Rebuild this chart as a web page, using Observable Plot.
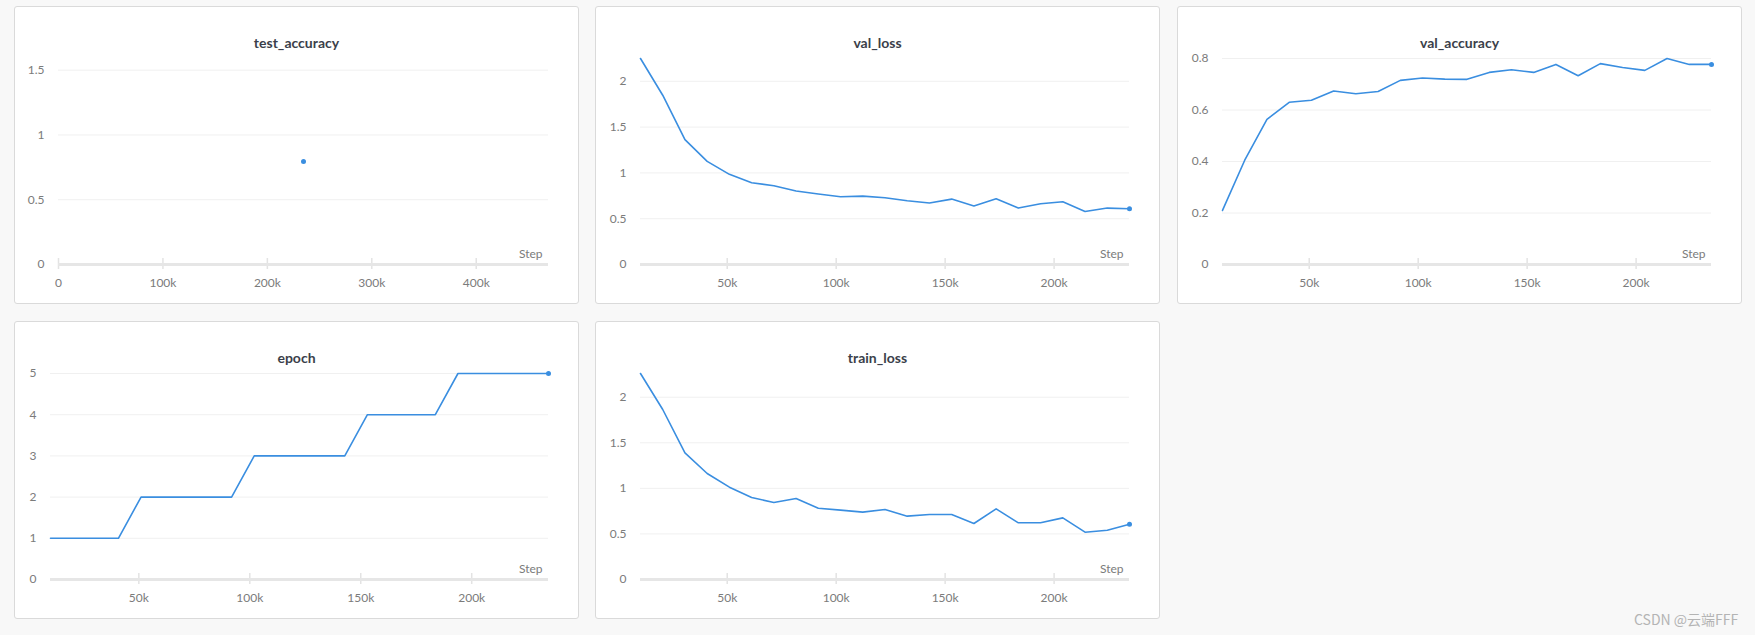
<!DOCTYPE html>
<html>
<head>
<meta charset="utf-8">
<script src="https://cdn.jsdelivr.net/npm/d3@7"></script>
<script src="https://cdn.jsdelivr.net/npm/@observablehq/plot@0.6"></script>
<style>
  html, body { margin: 0; padding: 0; }
  body { width: 1755px; height: 635px; background: #f8f8f8; position: relative; overflow: hidden;
         font-family: Lato, "Open Sans", "Noto Sans", sans-serif; }
  .card { position: absolute; width: 563px; height: 296px; border: 1px solid #dadada; border-radius: 3px; background: #fff; }
  .card svg { position: absolute; left: 0; top: 0; }
  .title { position: absolute; left: 0; right: 0; top: 27px; text-align: center; font-weight: 700; font-size: 14px;
           line-height: 18px; color: #3b3f4a; }
  .wm { position: absolute; left: 1634px; top: 609px; font-family: "Noto Sans CJK SC", sans-serif; font-size: 14px;
        color: #b4b4b4; line-height: 20px; }
</style>
</head>
<body>
<script>
// ---- data ----
const steps = [10200, 20400, 30600, 40800, 51000, 61200, 71400, 81600, 91800, 102000, 112200, 122400,
               132600, 142800, 153000, 163200, 173400, 183600, 193800, 204000, 214200, 224400, 234600];
const valLoss = [2.249, 1.848, 1.363, 1.126, 0.984, 0.893, 0.860, 0.802, 0.769, 0.740, 0.747, 0.729,
                 0.696, 0.671, 0.714, 0.638, 0.718, 0.616, 0.663, 0.685, 0.579, 0.616, 0.609];
const valAccuracy = [0.210, 0.405, 0.564, 0.630, 0.638, 0.674, 0.663, 0.672, 0.715, 0.724, 0.720, 0.719,
                     0.746, 0.756, 0.746, 0.777, 0.733, 0.780, 0.765, 0.754, 0.800, 0.777, 0.777];
const epochValues = [1, 1, 1, 1, 2, 2, 2, 2, 2, 3, 3, 3, 3, 3, 4, 4, 4, 4, 5, 5, 5, 5, 5];
const trainLoss = [2.260, 1.865, 1.389, 1.163, 1.013, 0.899, 0.845, 0.888, 0.782, 0.761, 0.739, 0.768,
                   0.695, 0.713, 0.713, 0.614, 0.775, 0.622, 0.622, 0.676, 0.519, 0.541, 0.607];
const testSteps = [234600];
const testAccuracy = [0.795];

const stepTicks = [50000, 100000, 150000, 200000];
const testStepTicks = [0, 100000, 200000, 300000, 400000];
const lossTicks = [0, 0.5, 1, 1.5, 2];
const accTicks = [0, 0.2, 0.4, 0.6, 0.8];
const epochTicks = [0, 1, 2, 3, 4, 5];
const testTicks = [0, 0.5, 1, 1.5];

const BLUE = "#3a8ee0";
const fmtStep = d => d === 0 ? "0" : (d / 1000) + "k";
const fmtVal = d3.format("~g");

function panel({left, top, title, xs, ys, xDomain, yDomain, xTicks, yTicks, marginLeft}) {
  const card = document.createElement("div");
  card.className = "card";
  card.style.left = left + "px";
  card.style.top = top + "px";
  const data = xs.map((s, i) => ({step: s, value: ys[i]}));
  const last = data[data.length - 1];
  const chart = Plot.plot({
    width: 563, height: 296,
    marginTop: 51, marginBottom: 39, marginLeft, marginRight: 30,
    style: {fontFamily: "Lato, 'Open Sans', sans-serif", fontSize: "12px", color: "#7b7b7b", background: "transparent", overflow: "visible"},
    x: {domain: xDomain, ticks: xTicks, tickFormat: fmtStep, tickSize: 0, tickPadding: 14, label: null},
    y: {domain: yDomain, ticks: yTicks, tickFormat: fmtVal, tickSize: 0, tickPadding: 14, label: null},
    marks: [
      Plot.ruleY(yTicks.filter(d => d > 0), {stroke: "#f0f0f0", strokeWidth: 1}),
      Plot.ruleX(xTicks, {x: d => d, y1: 0, y2: 0, insetTop: -6, insetBottom: -5, stroke: "#e3e3e3", strokeWidth: 1.5}),
      Plot.ruleY([0], {stroke: "#e6e6e6", strokeWidth: 3}),
      Plot.text(["Step"], {frameAnchor: "bottom-right", dx: -6, dy: -7, fill: "#7b7b7b", fontSize: 12}),
      Plot.line(data, {x: "step", y: "value", stroke: BLUE, strokeWidth: 1.6}),
      Plot.dot([last], {x: "step", y: "value", r: 2.5, fill: BLUE})
    ]
  });
  card.appendChild(chart);
  const t = document.createElement("div");
  t.className = "title";
  t.textContent = title;
  card.appendChild(t);
  document.body.appendChild(card);
}

panel({left: 14, top: 6, title: "test_accuracy", xs: testSteps, ys: testAccuracy,
       xDomain: [0, 469200], yDomain: [0, 1.59], xTicks: testStepTicks, yTicks: testTicks, marginLeft: 43});
panel({left: 595, top: 6, title: "val_loss", xs: steps, ys: valLoss,
       xDomain: [10200, 234600], yDomain: [0, 2.249], xTicks: stepTicks, yTicks: lossTicks, marginLeft: 44});
panel({left: 1177, top: 6, title: "val_accuracy", xs: steps, ys: valAccuracy,
       xDomain: [10200, 234600], yDomain: [0, 0.8], xTicks: stepTicks, yTicks: accTicks, marginLeft: 44});
panel({left: 14, top: 321, title: "epoch", xs: steps, ys: epochValues,
       xDomain: [10200, 234600], yDomain: [0, 5], xTicks: stepTicks, yTicks: epochTicks, marginLeft: 35});
panel({left: 595, top: 321, title: "train_loss", xs: steps, ys: trainLoss,
       xDomain: [10200, 234600], yDomain: [0, 2.26], xTicks: stepTicks, yTicks: lossTicks, marginLeft: 44});

const wm = document.createElement("div");
wm.className = "wm";
wm.textContent = "CSDN @云端FFF";
document.body.appendChild(wm);
</script>
</body>
</html>
